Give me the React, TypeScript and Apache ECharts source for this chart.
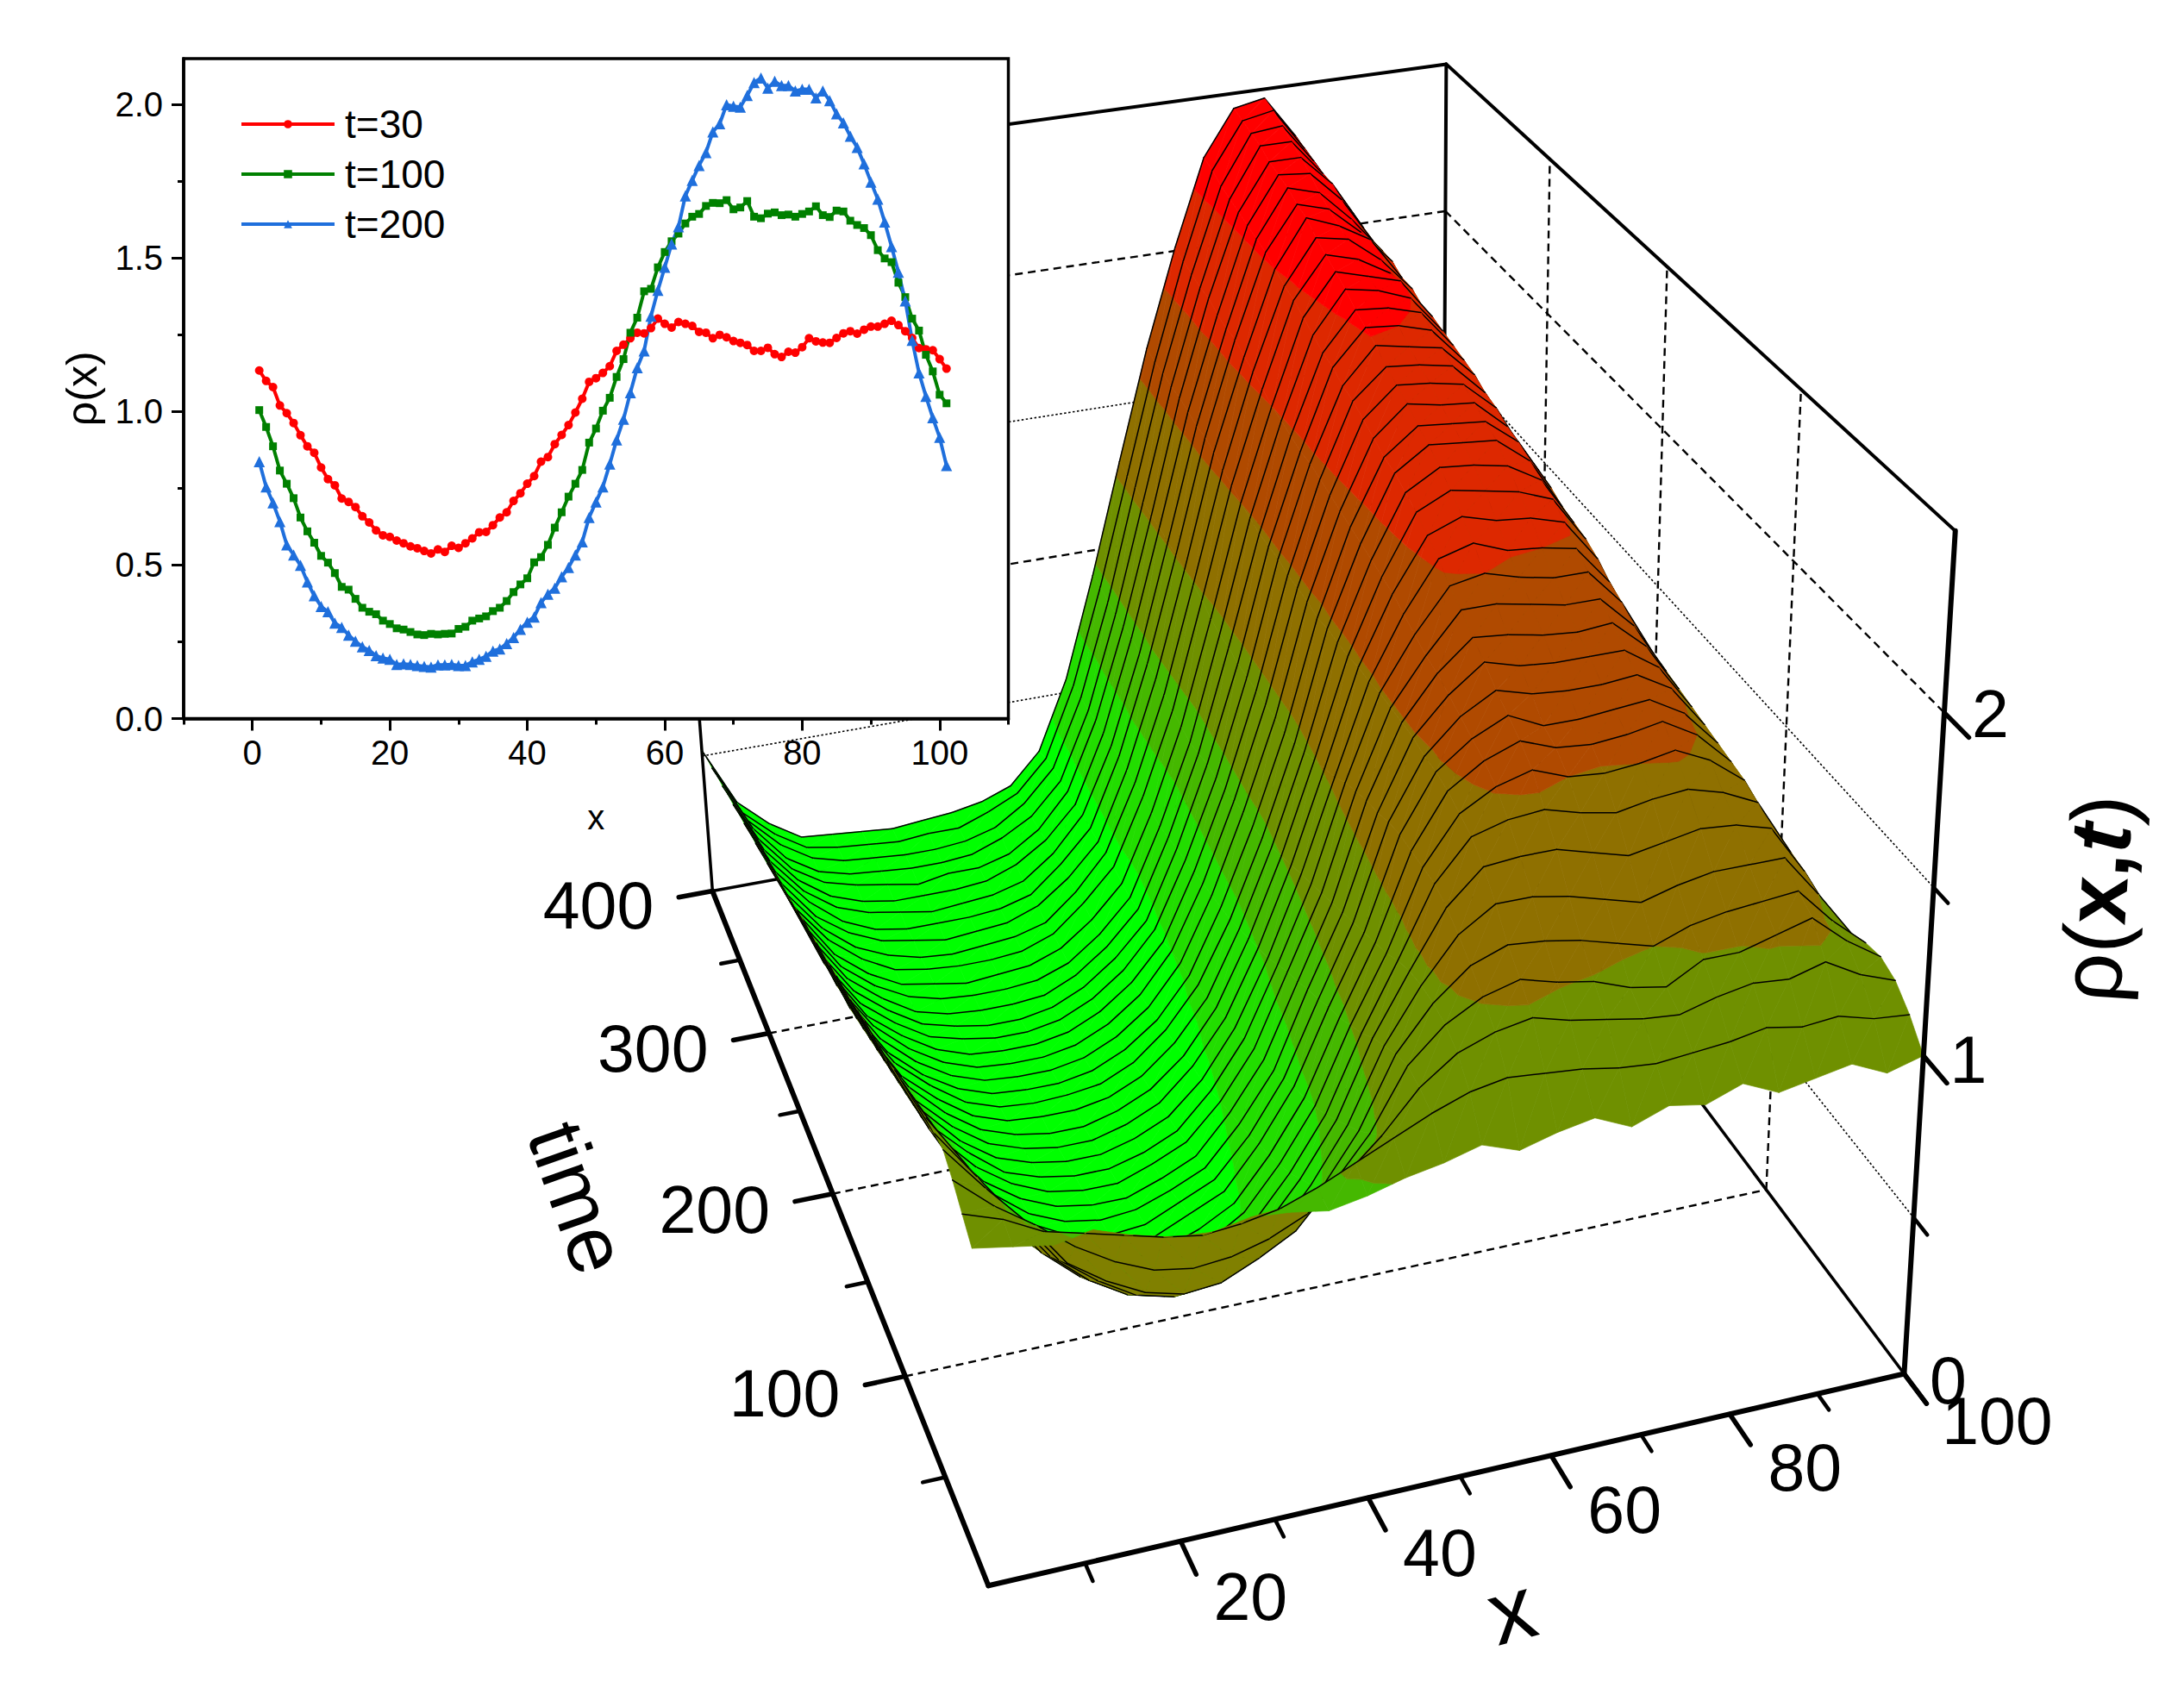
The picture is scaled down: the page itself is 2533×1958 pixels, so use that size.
import React, { useEffect, useRef } from "react";
import * as echarts from "echarts";

// ---------- inset profiles rho(x) ----------
const insetX = Array.from({ length: 101 }, (_, i) => i + 1);
const rhoT30 = [1.134,1.10,1.08,1.02,.995,.963,.923,.887,.866,.818,.78,.76,.717,.706,.689,.659,.639,.613,.597,.592,.58,.571,.561,.555,.546,.538,.551,.543,.563,.556,.571,.587,.607,.608,.63,.655,.672,.709,.734,.765,.79,.837,.852,.894,.924,.956,.997,1.042,1.097,1.109,1.126,1.148,1.198,1.218,1.239,1.257,1.255,1.272,1.303,1.286,1.274,1.292,1.286,1.279,1.26,1.257,1.239,1.25,1.242,1.23,1.224,1.217,1.198,1.198,1.208,1.187,1.178,1.195,1.192,1.21,1.239,1.229,1.225,1.224,1.24,1.255,1.262,1.254,1.267,1.277,1.277,1.286,1.296,1.282,1.262,1.24,1.207,1.203,1.2,1.171,1.14];
const rhoT100 = [1.005,.95,.887,.808,.765,.718,.655,.61,.573,.53,.508,.474,.429,.42,.39,.361,.348,.34,.319,.308,.294,.29,.282,.274,.272,.276,.274,.276,.277,.292,.299,.319,.326,.333,.35,.361,.383,.412,.437,.457,.509,.526,.566,.622,.672,.723,.765,.81,.899,.945,1.003,1.045,1.113,1.171,1.257,1.306,1.392,1.40,1.47,1.52,1.555,1.58,1.613,1.635,1.644,1.67,1.68,1.679,1.689,1.659,1.665,1.686,1.635,1.63,1.645,1.649,1.64,1.642,1.635,1.644,1.652,1.669,1.64,1.634,1.655,1.652,1.622,1.608,1.598,1.575,1.526,1.499,1.487,1.42,1.373,1.303,1.264,1.185,1.131,1.055,1.027];
const rhoT200 = [.837,.755,.703,.642,.566,.533,.499,.445,.40,.365,.348,.311,.297,.272,.252,.234,.222,.205,.197,.193,.176,.178,.176,.173,.17,.168,.175,.175,.176,.173,.173,.185,.193,.203,.22,.227,.244,.264,.291,.314,.331,.378,.405,.425,.462,.492,.533,.576,.655,.706,.755,.829,.908,.975,1.062,1.143,1.198,1.311,1.395,1.47,1.546,1.602,1.703,1.753,1.802,1.844,1.911,1.938,2.0,1.995,1.992,2.03,2.072,2.087,2.054,2.076,2.062,2.062,2.045,2.05,2.05,2.022,2.045,2.013,1.97,1.941,1.897,1.861,1.807,1.748,1.692,1.618,1.538,1.454,1.361,1.232,1.126,1.05,.98,.916,.824];
const insetXTicks = [0, 20, 40, 60, 80, 100];
const insetXMinor = [-10, 10, 30, 50, 70, 90, 110];
const insetYTicks = [0, 0.5, 1, 1.5, 2];
const insetYMinor = [0.25, 0.75, 1.25, 1.75];

// ---------- surface rho(x,t) estimated from the 3D picture ----------
const surfaceX = [0,4,8,12,16,20,24,28,32,36,40,44,48,52,56,60,64,68,72,76,80,84,88,92,96,100];
const surfaceT = [0,10,20,30,40,50,60,70,80,90,100,110,120,130,140,150,160,170,180,190,200,210,220,230,240,250,260,270,280,290,300,310,320,330,340,350,360,370,380,390,400];
const r000 = [1.02,1.00,.98,1.00,.96,.93,.92,.94,.93,.91,.93,.96,.98,1.01,.97,1.00,1.02,.97,1.01,.99,1.03,.98,1.00,1.02,.97,1.00];
const r010 = [1.06,1.02,.96,.93,.90,.87,.85,.86,.88,.92,.97,1.02,1.07,1.11,1.13,1.12,1.11,1.09,1.08,1.09,1.10,1.12,1.10,1.11,1.08,1.07];
const r020 = [1.10,1.00,.92,.83,.76,.71,.69,.70,.73,.78,.87,.97,1.09,1.17,1.21,1.23,1.20,1.18,1.16,1.15,1.18,1.20,1.19,1.22,1.16,1.12];
const r030 = [1.13,.995,.87,.72,.64,.58,.55,.56,.61,.67,.79,.92,1.10,1.20,1.26,1.29,1.26,1.24,1.20,1.18,1.24,1.24,1.27,1.30,1.21,1.14];
const r040 = [1.12,.97,.82,.67,.58,.51,.48,.49,.53,.60,.72,.87,1.08,1.21,1.30,1.34,1.33,1.31,1.28,1.25,1.29,1.31,1.32,1.33,1.22,1.13];
const r050 = [1.11,.94,.77,.62,.52,.45,.42,.43,.48,.54,.67,.83,1.05,1.21,1.34,1.41,1.41,1.39,1.36,1.33,1.36,1.38,1.38,1.38,1.25,1.11];
const r060 = [1.09,.90,.72,.57,.47,.40,.38,.39,.43,.50,.63,.79,1.02,1.20,1.37,1.47,1.48,1.48,1.45,1.42,1.44,1.46,1.45,1.42,1.27,1.09];
const r070 = [1.07,.87,.68,.53,.43,.36,.34,.35,.39,.46,.59,.75,.98,1.18,1.39,1.51,1.54,1.55,1.52,1.50,1.52,1.53,1.50,1.45,1.28,1.07];
const r080 = [1.05,.84,.64,.49,.40,.33,.31,.32,.36,.43,.56,.72,.95,1.15,1.39,1.53,1.59,1.62,1.58,1.57,1.58,1.60,1.55,1.47,1.28,1.05];
const r090 = [1.03,.80,.60,.46,.37,.31,.29,.30,.34,.40,.53,.69,.92,1.13,1.39,1.55,1.62,1.66,1.62,1.61,1.62,1.64,1.58,1.48,1.27,1.04];
const r100 = [1.00,.77,.57,.43,.35,.29,.27,.28,.33,.38,.51,.67,.90,1.11,1.39,1.56,1.64,1.69,1.64,1.64,1.65,1.66,1.60,1.49,1.26,1.03];
const r110 = [.99,.75,.55,.41,.33,.27,.25,.26,.31,.36,.48,.64,.87,1.09,1.38,1.56,1.66,1.72,1.69,1.68,1.68,1.69,1.63,1.50,1.25,1.02];
const r120 = [.97,.73,.53,.40,.31,.26,.24,.25,.29,.34,.46,.61,.85,1.07,1.36,1.57,1.68,1.76,1.73,1.72,1.72,1.72,1.65,1.51,1.23,1.00];
const r130 = [.96,.71,.51,.38,.30,.25,.23,.23,.27,.32,.44,.59,.82,1.05,1.35,1.57,1.70,1.79,1.78,1.76,1.75,1.76,1.67,1.52,1.22,.98];
const r140 = [.94,.69,.49,.37,.29,.24,.22,.22,.26,.31,.42,.57,.80,1.03,1.33,1.57,1.71,1.83,1.83,1.81,1.79,1.79,1.69,1.53,1.21,.96];
const r150 = [.92,.67,.47,.36,.27,.23,.21,.21,.24,.29,.40,.55,.77,1.01,1.31,1.57,1.73,1.86,1.88,1.85,1.83,1.83,1.72,1.54,1.20,.93];
const r160 = [.90,.65,.46,.34,.26,.22,.20,.20,.23,.28,.38,.53,.74,.99,1.28,1.56,1.75,1.90,1.93,1.89,1.88,1.86,1.74,1.54,1.18,.90];
const r170 = [.89,.63,.44,.33,.25,.21,.19,.19,.22,.27,.37,.51,.72,.97,1.26,1.56,1.77,1.93,1.97,1.94,1.93,1.90,1.77,1.55,1.17,.88];
const r180 = [.87,.61,.43,.32,.24,.20,.18,.18,.21,.26,.35,.49,.70,.95,1.24,1.55,1.78,1.96,2.01,1.99,1.97,1.93,1.79,1.54,1.15,.86];
const r190 = [.85,.59,.41,.31,.23,.19,.18,.18,.20,.25,.34,.47,.68,.93,1.22,1.55,1.79,1.98,2.04,2.03,2.01,1.95,1.80,1.54,1.14,.84];
const r200 = [.84,.57,.40,.30,.22,.18,.17,.175,.19,.24,.33,.46,.66,.91,1.20,1.55,1.80,2.00,2.07,2.06,2.05,1.97,1.81,1.54,1.13,.82];
const r210 = [.82,.55,.38,.28,.21,.17,.16,.16,.18,.23,.31,.44,.65,.90,1.19,1.54,1.81,2.01,2.09,2.08,2.07,1.99,1.83,1.54,1.13,.81];
const r220 = [.81,.54,.37,.27,.20,.16,.15,.15,.17,.22,.30,.43,.64,.90,1.19,1.55,1.82,2.03,2.12,2.10,2.09,2.00,1.84,1.54,1.12,.80];
const r230 = [.79,.52,.36,.26,.19,.15,.14,.14,.16,.21,.29,.42,.63,.89,1.19,1.55,1.83,2.05,2.14,2.13,2.11,2.02,1.84,1.54,1.11,.78];
const r240 = [.77,.51,.34,.25,.18,.14,.13,.13,.15,.20,.28,.40,.62,.88,1.19,1.55,1.84,2.07,2.16,2.15,2.13,2.03,1.85,1.53,1.10,.76];
const r250 = [.75,.49,.33,.24,.17,.14,.12,.12,.14,.19,.27,.39,.61,.87,1.19,1.56,1.85,2.08,2.19,2.17,2.15,2.05,1.85,1.53,1.09,.74];
const r260 = [.74,.48,.32,.23,.16,.13,.11,.11,.13,.18,.26,.37,.60,.87,1.19,1.56,1.85,2.10,2.21,2.20,2.17,2.06,1.86,1.52,1.08,.72];
const r270 = [.72,.47,.31,.22,.15,.12,.11,.11,.12,.17,.25,.36,.59,.86,1.20,1.56,1.86,2.11,2.23,2.22,2.19,2.07,1.86,1.52,1.07,.71];
const r280 = [.70,.46,.30,.21,.15,.12,.11,.11,.12,.16,.24,.35,.58,.85,1.20,1.57,1.87,2.13,2.26,2.24,2.20,2.08,1.86,1.51,1.06,.69];
const r290 = [.69,.45,.29,.20,.14,.12,.10,.11,.12,.16,.24,.35,.58,.86,1.21,1.58,1.88,2.15,2.28,2.25,2.22,2.09,1.87,1.51,1.05,.67];
const r300 = [.67,.43,.29,.20,.14,.12,.11,.11,.12,.16,.25,.36,.59,.87,1.23,1.60,1.90,2.17,2.30,2.27,2.21,2.09,1.87,1.50,1.04,.66];
const r310 = [.66,.42,.28,.19,.14,.11,.10,.11,.12,.15,.24,.36,.59,.88,1.24,1.61,1.92,2.18,2.32,2.30,2.22,2.11,1.87,1.50,1.03,.64];
const r320 = [.64,.41,.27,.19,.14,.12,.10,.11,.12,.16,.24,.35,.59,.89,1.25,1.63,1.93,2.20,2.35,2.31,2.25,2.11,1.87,1.49,1.02,.62];
const r330 = [.63,.40,.27,.18,.13,.11,.11,.11,.12,.15,.24,.35,.59,.90,1.26,1.64,1.95,2.22,2.36,2.33,2.24,2.13,1.87,1.49,1.01,.61];
const r340 = [.61,.39,.26,.18,.14,.12,.10,.11,.12,.15,.23,.35,.58,.89,1.26,1.64,1.95,2.23,2.38,2.35,2.25,2.13,1.87,1.48,1.00,.59];
const r350 = [.60,.38,.25,.17,.13,.11,.11,.11,.12,.16,.23,.34,.58,.90,1.27,1.65,1.96,2.24,2.39,2.38,2.28,2.13,1.87,1.48,.99,.58];
const r360 = [.58,.37,.24,.17,.14,.12,.10,.12,.12,.15,.22,.34,.58,.90,1.27,1.66,1.98,2.25,2.40,2.40,2.30,2.14,1.87,1.47,.98,.56];
const r370 = [.57,.36,.23,.16,.13,.12,.11,.11,.12,.16,.22,.33,.57,.90,1.28,1.66,1.98,2.26,2.42,2.42,2.30,2.15,1.87,1.47,.97,.55];
const r380 = [.55,.34,.23,.16,.13,.12,.11,.11,.12,.15,.22,.33,.57,.90,1.29,1.67,1.99,2.27,2.43,2.44,2.31,2.15,1.86,1.46,.96,.53];
const r390 = [.54,.32,.22,.15,.13,.12,.11,.12,.12,.16,.21,.32,.57,.91,1.29,1.67,2.00,2.29,2.44,2.46,2.32,2.16,1.86,1.46,.95,.52];
const r400 = [.52,.31,.21,.14,.13,.12,.11,.12,.13,.15,.19,.30,.55,.91,1.30,1.68,2.01,2.30,2.45,2.47,2.33,2.16,1.85,1.45,.95,.50];
const surfaceRows = [r000,r010,r020,r030,r040,r050,r060,r070,r080,r090,r100,r110,r120,r130,r140,r150,r160,r170,r180,r190,r200,r210,r220,r230,r240,r250,r260,r270,r280,r290,r300,r310,r320,r330,r340,r350,r360,r370,r380,r390,r400];

const bandLevels = [0.42, 0.72, 0.95, 1.25, 1.58, 1.88, 2.2];
const bandColors = ["#00FF00", "#22DD00", "#45B800", "#6F9000", "#8F7000", "#B04A00", "#DD2800", "#FF0000"];
const undersideColor = "#808000";

const tLabels = [100, 200, 300, 400];
const tMinor = [50, 150, 250, 350];
const xLabels = [20, 40, 60, 80, 100];
const xMinor = [10, 30, 50, 70, 90];
const zLabels = [0, 1, 2];
const zMinor = [0.5, 1.5];
const zTop = 2.5;

// ---------- camera calibration: world (x, t, rho) -> page pixel (in the 1568-wide view) ----------
const SCALE = 2533 / 1568;
const calib: number[][] = [
  [0, 0, 0, 711, 1138], [100, 0, 0, 1365, 985], [0, 400, 0, 510, 638], [100, 400, 0, 1037, 544],
  [100, 400, 2.5, 1037, 45], [100, 0, 2.5, 1405, 383], [0, 100, 0, 650, 990], [0, 200, 0, 600, 857],
  [0, 300, 0, 553, 742], [20, 0, 0, 845, 1107], [40, 0, 0, 982, 1076], [60, 0, 0, 1113, 1046],
  [80, 0, 0, 1240, 1016], [100, 0, 1, 1382, 758], [100, 0, 2, 1397, 505], [100, 100, 0, 1270, 855],
  [100, 100, 2.5, 1293, 283], [100, 400, 2, 1037, 153],
];

function solveCamera(): number[] {
  const n = 11;
  const A: number[][] = Array.from({ length: n }, () => new Array(n + 1).fill(0));
  const add = (r: number[], b: number) => {
    for (let i = 0; i < n; i++) {
      for (let j = 0; j < n; j++) A[i][j] += r[i] * r[j];
      A[i][n] += r[i] * b;
    }
  };
  for (const [x0, t0, z0, u0, v0] of calib) {
    const x = x0 / 100, t = t0 / 400, z = z0 / 2.5, u = u0 * SCALE, v = v0 * SCALE;
    add([x, t, z, 1, 0, 0, 0, 0, -u * x, -u * t, -u * z], u);
    add([0, 0, 0, 0, x, t, z, 1, -v * x, -v * t, -v * z], v);
  }
  for (let c = 0; c < n; c++) {
    let p = c;
    for (let r = c + 1; r < n; r++) if (Math.abs(A[r][c]) > Math.abs(A[p][c])) p = r;
    [A[c], A[p]] = [A[p], A[c]];
    for (let r = 0; r < n; r++) {
      if (r === c) continue;
      const f = A[r][c] / A[c][c];
      for (let k = c; k <= n; k++) A[r][k] -= f * A[c][k];
    }
  }
  return A.map((row, i) => row[n] / row[i]);
}
const cam = solveCamera();
const depth = (x: number, t: number, z: number) => (cam[8] * x) / 100 + (cam[9] * t) / 400 + (cam[10] * z) / 2.5 + 1;
function project(x0: number, t0: number, z0: number): [number, number] {
  const x = x0 / 100, t = t0 / 400, z = z0 / 2.5;
  const w = cam[8] * x + cam[9] * t + cam[10] * z + 1;
  return [(cam[0] * x + cam[1] * t + cam[2] * z + cam[3]) / w, (cam[4] * x + cam[5] * t + cam[6] * z + cam[7]) / w];
}

type V3 = [number, number, number];
type Item =
  | { kind: "patch"; polys: { pts: [number, number][]; fill: string }[]; edge: [number, number][] | null }
  | { kind: "line"; a: [number, number]; b: [number, number]; w: number; dash?: number[]; cap?: string }
  | { kind: "text"; x: number; y: number; text?: string; size?: number; align?: string; rot?: number; rich?: boolean };

function clipZ(poly: V3[], lo: number, hi: number): V3[] {
  const clip = (pts: V3[], lim: number, keepAbove: boolean) => {
    const out: V3[] = [];
    for (let i = 0; i < pts.length; i++) {
      const a = pts[i], b = pts[(i + 1) % pts.length];
      const ina = keepAbove ? a[2] >= lim : a[2] <= lim;
      const inb = keepAbove ? b[2] >= lim : b[2] <= lim;
      if (ina) out.push(a);
      if (ina !== inb) {
        const f = (lim - a[2]) / (b[2] - a[2]);
        out.push([a[0] + f * (b[0] - a[0]), a[1] + f * (b[1] - a[1]), lim]);
      }
    }
    return out;
  };
  let r = clip(poly, lo, true);
  if (r.length) r = clip(r, hi, false);
  return r;
}
const signedArea = (p: [number, number][]) => {
  let s = 0;
  for (let i = 0; i < p.length; i++) {
    const a = p[i], b = p[(i + 1) % p.length];
    s += a[0] * b[1] - b[0] * a[1];
  }
  return s;
};

function buildSurface(): Item[] {
  const items: Item[] = [];
  const floorSign = Math.sign(signedArea([project(0, 0, 0), project(100, 0, 0), project(100, 400, 0), project(0, 400, 0)]));
  const lows = [-1, ...bandLevels];
  const highs = [...bandLevels, 9];
  for (let i = surfaceT.length - 1; i > 0; i--) {
    const strip: { d: number; item: Item }[] = [];
    for (let j = 0; j < surfaceX.length - 1; j++) {
      const P = (jj: number, ii: number): V3 => [surfaceX[jj], surfaceT[ii], surfaceRows[ii][jj]];
      const a = P(j, i - 1), b = P(j + 1, i - 1), c = P(j + 1, i), d = P(j, i);
      const polys: { pts: [number, number][]; fill: string }[] = [];
      for (const tri of [[a, b, c], [a, c, d]] as V3[][]) {
        const scr = tri.map((v) => project(v[0], v[1], v[2]));
        const top = Math.sign(signedArea(scr)) === floorSign;
        if (!top) {
          polys.push({ pts: scr, fill: undersideColor });
        } else {
          lows.forEach((lo, k) => {
            const part = clipZ(tri, lo, highs[k]);
            if (part.length >= 3) polys.push({ pts: part.map((v) => project(v[0], v[1], v[2])), fill: bandColors[k] });
          });
        }
      }
      const edge: [number, number][] = [project(d[0], d[1], d[2]), project(c[0], c[1], c[2])];
      const dep = depth((a[0] + c[0]) / 2, (a[1] + c[1]) / 2, (a[2] + c[2]) / 2);
      strip.push({ d: dep, item: { kind: "patch", polys, edge } });
    }
    strip.sort((p, q) => q.d - p.d);
    strip.forEach((s) => items.push(s.item));
  }
  return items;
}

function seg(x1: number, t1: number, z1: number, x2: number, t2: number, z2: number, w: number, dash?: number[]): Item {
  return { kind: "line", a: project(x1, t1, z1), b: project(x2, t2, z2), w, dash };
}
const DASH = [9, 6];
const DOT = [2.5, 2.5];

function buildBack(): Item[] {
  const it: Item[] = [];
  for (const z of [1, 2]) {
    it.push(seg(0, 400, z, 100, 400, z, 2.4, DASH), seg(100, 400, z, 100, 0, z, 2.4, DASH));
  }
  for (const z of zMinor) {
    it.push(seg(0, 400, z, 100, 400, z, 1.6, DOT), seg(100, 400, z, 100, 0, z, 1.6, DOT));
  }
  for (const t of [100, 200, 300]) {
    it.push(seg(0, t, 0, 100, t, 0, 2.4, DASH), seg(100, t, 0, 100, t, zTop, 2.4, DASH));
  }
  it.push(
    seg(0, 400, 0, 100, 400, 0, 3.5),
    seg(100, 400, 0, 100, 0, 0, 3.5),
    seg(0, 400, 0, 0, 400, zTop, 3.5),
    seg(100, 400, 0, 100, 400, zTop, 4),
    seg(0, 400, zTop, 100, 400, zTop, 4),
    seg(100, 400, zTop, 100, 0, zTop, 4),
  );
  return it;
}

const S = SCALE;
function buildFront(): Item[] {
  const it: Item[] = [];
  const T = 5.5;
  it.push(seg(0, 0, 0, 100, 0, 0, 6), seg(0, 0, 0, 0, 400, 0, 6), seg(100, 0, 0, 100, 0, zTop, 6));
  for (const t of tLabels) it.push(seg(0, t, 0, -4.4, t, 0, T));
  for (const t of tMinor) it.push(seg(0, t, 0, -2.4, t, 0, T - 1));
  for (const x of xLabels) it.push(seg(x, 0, 0, x, -15, 0, T));
  for (const x of xMinor) it.push(seg(x, 0, 0, x, -8, 0, T - 1));
  for (const z of zLabels) it.push(seg(100, 0, z, 100, -15, z, T));
  for (const z of zMinor) it.push(seg(100, 0, z, 100, -9, z, T - 1));

  for (const t of tLabels) {
    const e = project(-4.4, t, 0);
    it.push({ kind: "text", x: e[0] - 29, y: e[1] + 9, text: String(t), size: 77, align: "right" });
  }
  for (const x of xLabels) {
    const e = project(x, -15, 0);
    it.push({ kind: "text", x: e[0] + (x === 100 ? 82 : 63), y: e[1] + (x === 100 ? 20 : 26), text: String(x), size: 77, align: "center" });
  }
  for (const z of zLabels) {
    const e = project(100, -15, z);
    it.push({ kind: "text", x: e[0] + 25, y: e[1] - 27, text: String(z), size: 77, align: "center" });
  }
  it.push({ kind: "text", x: 415 * S, y: 860 * S, text: "time", size: 94, align: "center", rot: (-70.7 * Math.PI) / 180 });
  it.push({ kind: "text", x: 1085 * S, y: 1156 * S, text: "x", size: 104, align: "center", rot: (15 * Math.PI) / 180 });
  it.push({ kind: "text", x: 1505 * S, y: 645 * S, size: 100, align: "center", rot: (86.4 * Math.PI) / 180, rich: true });
  return it;
}

const drawList: Item[] = [...buildBack(), ...buildSurface(), ...buildFront()];

function renderItem(_params: any, api: any) {
  const item = drawList[api.value(0)];
  const c = (p: [number, number]) => api.coord(p);
  if (item.kind === "patch") {
    const children: any[] = item.polys.map((p) => ({
      type: "polygon",
      shape: { points: p.pts.map(c) },
      style: { fill: p.fill, stroke: p.fill, lineWidth: 0.7 },
      silent: true,
    }));
    if (item.edge) {
      const [a, b] = item.edge.map(c);
      children.push({
        type: "line",
        shape: { x1: a[0], y1: a[1], x2: b[0], y2: b[1] },
        style: { stroke: "#000", lineWidth: 1.5, lineCap: "round" },
        silent: true,
      });
    }
    return { type: "group", children };
  }
  if (item.kind === "line") {
    const a = c(item.a), b = c(item.b);
    return {
      type: "line",
      shape: { x1: a[0], y1: a[1], x2: b[0], y2: b[1] },
      style: { stroke: "#000", lineWidth: item.w, lineDash: item.dash, lineCap: item.dash ? "butt" : "round" },
      silent: true,
    };
  }
  const p = c([item.x, item.y]);
  if (item.rich) {
    return {
      type: "text",
      x: p[0],
      y: p[1],
      rotation: item.rot || 0,
      silent: true,
      style: {
        text: "{a|ρ(}{b|x,}{c|t}{a|)}",
        align: "center",
        verticalAlign: "middle",
        fill: "#000",
        rich: {
          a: { fontFamily: "Liberation Sans", fontSize: item.size, fill: "#000" },
          b: { fontFamily: "Liberation Sans", fontSize: item.size, fontWeight: "bold", fill: "#000" },
          c: { fontFamily: "Liberation Sans", fontSize: item.size, fontWeight: "bold", fontStyle: "italic", fill: "#000" },
        },
      },
    };
  }
  return {
    type: "text",
    x: p[0],
    y: p[1],
    rotation: item.rot || 0,
    silent: true,
    style: {
      text: item.text,
      fontFamily: "Liberation Sans",
      fontSize: item.size,
      fill: "#000",
      align: item.align || "center",
      verticalAlign: "middle",
    },
  };
}

const FONT = "Liberation Sans";
const RED = "#FF0000";
const GREEN = "#008000";
const BLUE = "#1F6FDC";

function buildOption(): any {
  const insetLine = (name: string, ys: number[], color: string, symbol: string, size: number) => ({
    name,
    type: "line",
    xAxisIndex: 1,
    yAxisIndex: 1,
    z: 8,
    data: insetX.map((x, i) => [x, ys[i]]),
    symbol,
    symbolSize: size,
    showSymbol: true,
    showAllSymbol: true,
    itemStyle: { color },
    lineStyle: { color, width: 4 },
    silent: true,
  });
  const hiddenAxis = (extra: any) => ({ show: false, gridIndex: 0, type: "value", ...extra });
  const insetAxisBase = { type: "value", gridIndex: 1, z: 7, splitLine: { show: false } };
  return {
    animation: false,
    backgroundColor: "#fff",
    grid: [
      { left: 0, top: 0, width: 2533, height: 1958, show: false, z: 0 },
      {
        left: 213, top: 68, width: 956.5, height: 765.5, show: true, z: 5,
        backgroundColor: "#fff", borderColor: "#000", borderWidth: 3.5,
      },
    ],
    legend: {
      show: true, orient: "vertical", left: 273, top: 116, itemWidth: 108, itemHeight: 12, itemGap: 12, z: 9,
      selectedMode: false,
      data: ["t=30", "t=100", "t=200"],
      lineStyle: { width: 4 },
      textStyle: { fontFamily: FONT, fontSize: 46, color: "#000", lineHeight: 46, padding: [0, 0, 0, 7] },
    },
    xAxis: [
      hiddenAxis({ min: 0, max: 2533 }),
      {
        ...insetAxisBase, min: -10, max: 110, position: "bottom", name: "x", nameLocation: "middle", nameGap: 94,
        nameTextStyle: { fontFamily: FONT, fontSize: 40, color: "#000" },
        axisLine: { onZero: false, lineStyle: { color: "#000", width: 3.5 } },
        axisTick: { show: true, length: 14, inside: false, customValues: insetXTicks, lineStyle: { color: "#000", width: 3 } },
        axisLabel: { show: true, customValues: insetXTicks, margin: 19, fontFamily: FONT, fontSize: 40, color: "#000" },
      },
      {
        ...insetAxisBase, min: -10, max: 110, position: "bottom",
        axisLine: { show: false, onZero: false },
        axisTick: { show: true, length: 7, customValues: insetXMinor, lineStyle: { color: "#000", width: 3 } },
        axisLabel: { show: false },
      },
    ],
    yAxis: [
      hiddenAxis({ min: 0, max: 1958, inverse: true }),
      {
        ...insetAxisBase, min: 0, max: 2.15, position: "left", name: "ρ(x)", nameLocation: "middle", nameGap: 93,
        nameRotate: 90,
        nameTextStyle: { fontFamily: FONT, fontSize: 50, color: "#000" },
        axisLine: { onZero: false, lineStyle: { color: "#000", width: 3.5 } },
        axisTick: { show: true, length: 14, customValues: insetYTicks, lineStyle: { color: "#000", width: 3 } },
        axisLabel: {
          show: true, customValues: insetYTicks, margin: 24, fontFamily: FONT, fontSize: 40, color: "#000",
          formatter: (v: number) => v.toFixed(1),
        },
      },
      {
        ...insetAxisBase, min: 0, max: 2.15, position: "left",
        axisLine: { show: false, onZero: false },
        axisTick: { show: true, length: 7, customValues: insetYMinor, lineStyle: { color: "#000", width: 3 } },
        axisLabel: { show: false },
      },
    ],
    series: [
      {
        type: "custom",
        coordinateSystem: "cartesian2d",
        xAxisIndex: 0,
        yAxisIndex: 0,
        z: 1,
        clip: false,
        silent: true,
        renderItem,
        encode: { x: 0, y: 1 },
        data: drawList.map((_, i) => [i, 0]),
      },
      insetLine("t=30", rhoT30, RED, "circle", 10),
      insetLine("t=100", rhoT100, GREEN, "rect", 9),
      insetLine("t=200", rhoT200, BLUE, "triangle", 13),
    ],
  };
}

export default function App() {
  const ref = useRef<HTMLDivElement>(null);
  useEffect(() => {
    document.body.style.margin = "0";
    const chart = echarts.init(ref.current!, undefined, { renderer: "svg" });
    chart.setOption(buildOption());
    return () => chart.dispose();
  }, []);
  return <div ref={ref} style={{ position: "absolute", left: 0, top: 0, width: 2533, height: 1958 }} />;
}
